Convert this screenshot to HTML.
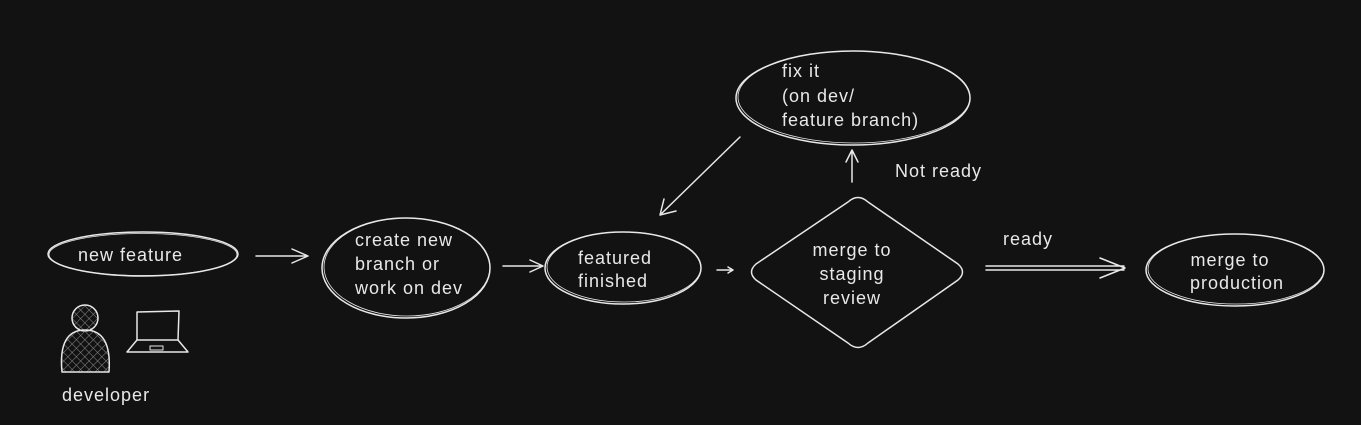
<!DOCTYPE html>
<html><head><style>
html,body{margin:0;padding:0;background:#121212;}
svg{display:block}
text{font-family:"Liberation Sans",sans-serif;font-size:18px;letter-spacing:1px;fill:#e8e8e8;}
</style></head><body>
<svg width="1361" height="425" viewBox="0 0 1361 425">
<defs>
<pattern id="h" width="6" height="6" patternUnits="userSpaceOnUse" patternTransform="rotate(45)">
<line x1="0" y1="0" x2="0" y2="6" stroke="#888" stroke-width="1"/>
<line x1="0" y1="0" x2="6" y2="0" stroke="#888" stroke-width="1"/>
</pattern>
</defs>
<g fill="none" stroke="#e8e8e8" stroke-width="1.5" stroke-linecap="round" stroke-linejoin="round">
<ellipse cx="143" cy="254" rx="95" ry="22"/>
<ellipse cx="143" cy="254.5" rx="94" ry="21" stroke-width="0.8"/>
<path d="M256 256 L308 256 M292 249 L308 256 L292 263"/>
<ellipse cx="406" cy="268" rx="84" ry="50"/>
<ellipse cx="407" cy="267" rx="83" ry="49" stroke-width="0.8"/>
<path d="M503 266 L543 266 M530 260 L543 266 L530 272"/>
<ellipse cx="623" cy="268" rx="78" ry="36"/>
<ellipse cx="624" cy="267" rx="77" ry="35" stroke-width="0.8"/>
<path d="M717 270 L733 270 M728 267 L733 270 L728 273"/>
<path d="M848 202 Q858 193 868 202 L958 264 Q967 272 958 280 L868 343 Q858 352 848 343 L756 280 Q747 272 756 264 Z"/>
<path d="M852 182 L852 150 M846 162 L852 150 L858 162"/>
<ellipse cx="853" cy="98" rx="117" ry="47"/>
<ellipse cx="854" cy="97" rx="116" ry="46" stroke-width="0.8"/>
<path d="M740 137 L660 215 M664 199 L660 215 L676 211"/>
<path d="M986 266 L1124 266 M986 270 L1124 270 M1100 258 L1125 268 L1100 278"/>
<ellipse cx="1235" cy="270" rx="89" ry="36"/>
<ellipse cx="1236" cy="269" rx="88" ry="35" stroke-width="0.8"/>
<circle cx="85" cy="318" r="13" fill="url(#h)"/>
<path d="M62 372 Q58 330 85 330 Q112 330 109 372 Z" fill="url(#h)"/>
<path d="M137 312 L179 311 L178 340 L137 340 Z"/>
<path d="M137 340 L127 352 L188 352 L178 340"/>
<path d="M150 346 L163 346 L163 350 L150 350 Z" stroke-width="1"/>
</g>
<text x="78" y="261">new feature</text>
<text x="355" y="246">create new</text>
<text x="355" y="270">branch or</text>
<text x="355" y="294">work on dev</text>
<text x="578" y="264">featured</text>
<text x="578" y="287">finished</text>
<text x="852" y="256" text-anchor="middle">merge to</text>
<text x="852" y="280" text-anchor="middle">staging</text>
<text x="852" y="304" text-anchor="middle">review</text>
<text x="895" y="177">Not ready</text>
<text x="782" y="77">fix it</text>
<text x="782" y="102">(on dev/</text>
<text x="782" y="126">feature branch)</text>
<text x="1003" y="245">ready</text>
<text x="1230" y="266" text-anchor="middle">merge to</text>
<text x="1237" y="289" text-anchor="middle">production</text>
<text x="62" y="401">developer</text>
</svg>
</body></html>
